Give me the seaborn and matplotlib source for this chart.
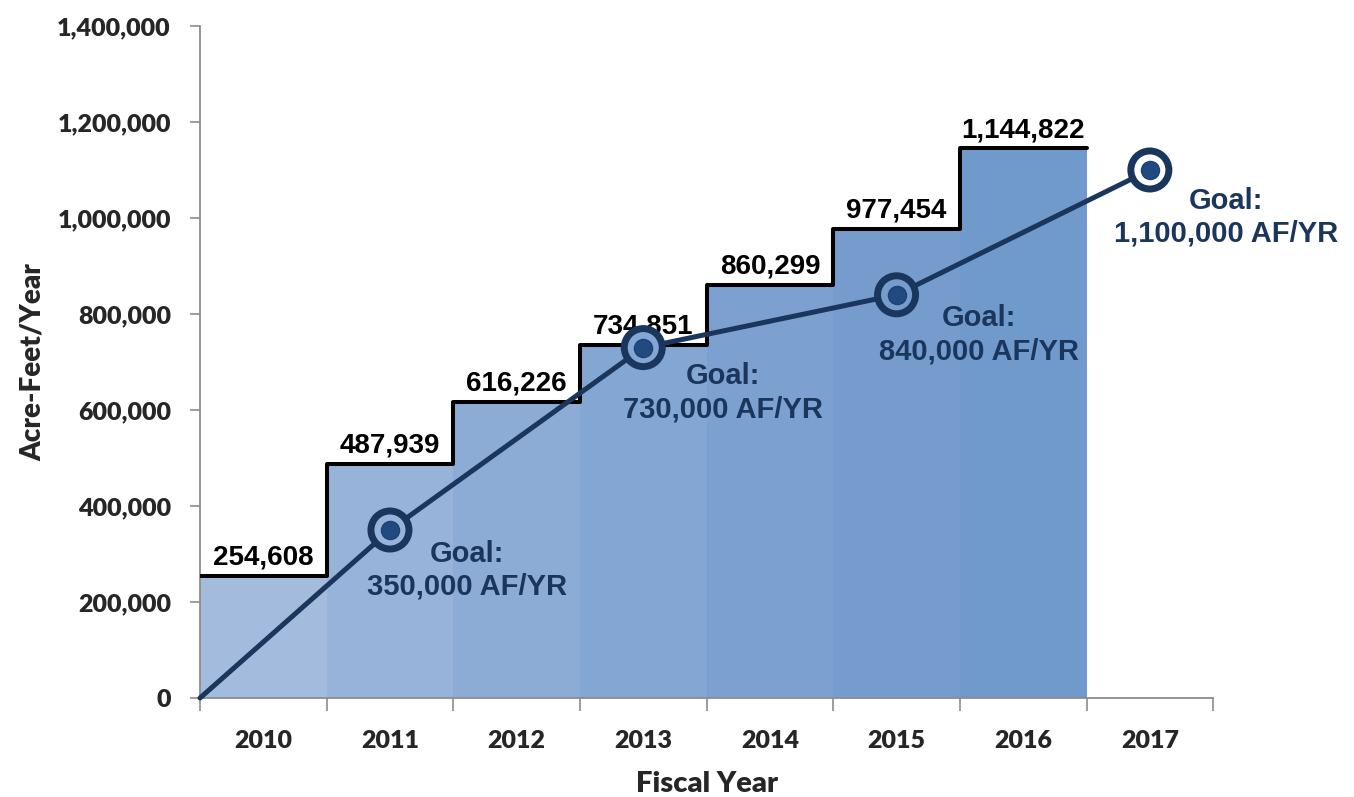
import numpy as np
import pandas as pd
import matplotlib
matplotlib.use("Agg")
import matplotlib.pyplot as plt
import seaborn as sns

# data
years = ["2010", "2011", "2012", "2013", "2014", "2015", "2016", "2017"]
bar_years = ["2010", "2011", "2012", "2013", "2014", "2015", "2016"]
bar_values = [254608, 487939, 616226, 734851, 860299, 977454, 1144822]
bar_colors = ["#a3bcde", "#97b3d9", "#8cacd5", "#83a6d2", "#7ca0cf", "#759ccd", "#709acc"]

goal_pos = [-0.5, 1, 3, 5, 7]          # start of 2010, then mid-year goals
goal_values = [0, 350000, 730000, 840000, 1100000]
goal_labels = ["", "Goal:\n350,000 AF/YR", "Goal:\n730,000 AF/YR",
               "Goal:\n840,000 AF/YR", "Goal:\n1,100,000 AF/YR"]
goal_offsets = [(0, 0), (77, -40), (80, -45), (82, -40), (76, -47)]

navy = "#1b365d"
grey = "#8c8c8c"

sns.set_style("white")
plt.rcParams["font.family"] = ["Liberation Sans", "DejaVu Sans"]

fig = plt.figure(figsize=(13.54, 7.97), dpi=100)
ax = fig.add_axes([0.1477, 0.1242, 0.896 - 0.1477, 0.9674 - 0.1242])

df = pd.DataFrame({"year": bar_years, "value": bar_values})
sns.barplot(data=df, x="year", y="value", hue="year", order=years,
            palette=dict(zip(bar_years, bar_colors)), width=1.0,
            legend=False, ax=ax, saturation=1, linewidth=0)

# step outline on top of the bars
edges = np.arange(len(bar_values) + 1) - 0.5
ax.step(edges, bar_values + [bar_values[-1]], where="post",
        color="black", lw=2.9, zorder=3)

for i, v in enumerate(bar_values):
    ax.text(i, v + 11000, f"{v:,}", ha="center", va="bottom",
            fontsize=20, fontweight="bold", color="black", zorder=5)

# goal line, ring markers filled with whatever sits behind them
ax.plot(goal_pos, goal_values, color=navy, lw=3.6, zorder=4, clip_on=False)
ring_face = [bar_colors[p] if p < len(bar_colors) else "white" for p in goal_pos[1:]]
ax.scatter(goal_pos[1:], goal_values[1:], s=750, facecolor=ring_face,
           edgecolor=navy, linewidths=5, zorder=5, clip_on=False)
ax.scatter(goal_pos[1:], goal_values[1:], s=170, facecolor="#214a80",
           edgecolor="#1d4373", linewidths=1, zorder=6, clip_on=False)

for x, y, lab, off in zip(goal_pos, goal_values, goal_labels, goal_offsets):
    if not lab:
        continue
    ax.annotate(lab, (x, y), xytext=off, textcoords="offset pixels",
                ha="center", va="center", fontsize=21, fontweight="bold",
                color=navy, linespacing=1.22, annotation_clip=False, zorder=6)

ax.set_xlim(-0.5, 7.5)
ax.set_ylim(0, 1400000)

tick_font = dict(family="Lato", weight="heavy", size=18)

# y axis
ax.set_yticks(np.arange(0, 1400001, 200000))
ax.set_yticklabels([f"{v:,.0f}" for v in np.arange(0, 1400001, 200000)],
                   fontdict=tick_font)
ax.tick_params(axis="y", length=7, width=1.2, color=grey, pad=14, left=True)

# x axis: ticks at year boundaries, labels centred
ax.set_xticks(np.arange(len(years) + 1) - 0.5)
ax.set_xticklabels([])
ax.set_xticks(np.arange(len(years)), minor=True)
ax.set_xticklabels(years, minor=True, fontdict=tick_font)
ax.tick_params(axis="x", which="major", length=9, width=1.2, color=grey,
               bottom=True)
ax.tick_params(axis="x", which="minor", length=0, pad=23)

ax.set_xlabel("Fiscal Year", family="Lato", weight="heavy",
              fontsize=21, labelpad=14)
ax.set_ylabel("Acre-Feet/Year", family="Lato", weight="heavy",
              fontsize=20, labelpad=8)

for side in ["top", "right"]:
    ax.spines[side].set_visible(False)
for side in ["left", "bottom"]:
    ax.spines[side].set_color(grey)
    ax.spines[side].set_linewidth(1.3)

fig.savefig("out.png", dpi=100)
